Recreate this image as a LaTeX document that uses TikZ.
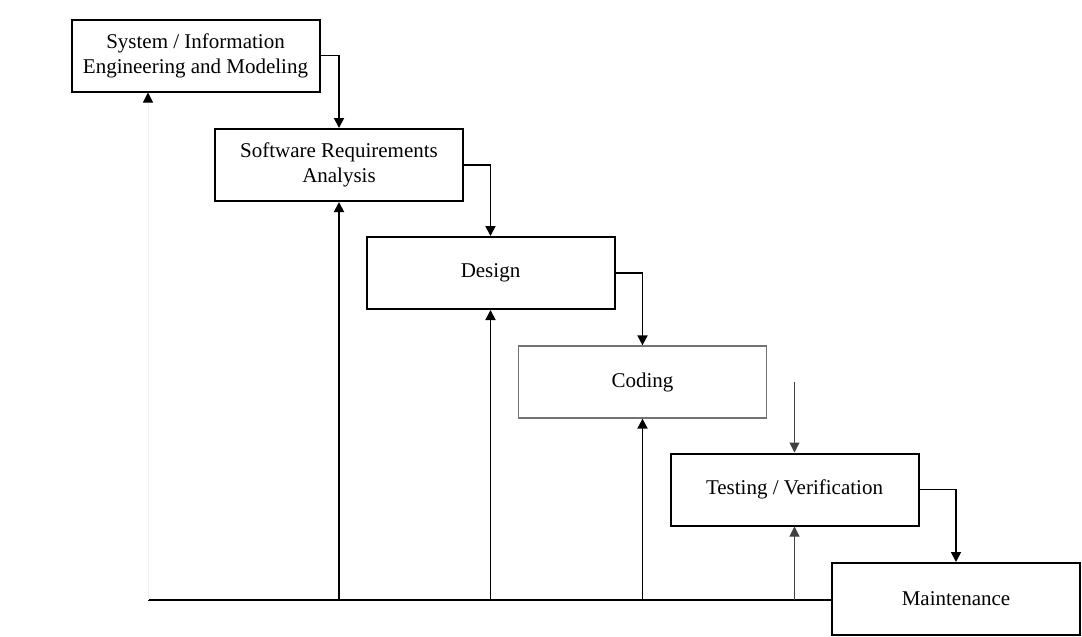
\documentclass[tikz,border=0pt]{standalone}
\usepackage{fontspec}
\setmainfont{Liberation Serif}
\usetikzlibrary{shapes,arrows.meta,positioning}
\tikzstyle{phase} = [draw, rectangle, line width=1pt, minimum width=124pt,
    minimum height=36pt, align=center, font=\fontsize{10.5}{12.5}\selectfont]
\tikzstyle{flow} = [-{Triangle[width=5pt,length=5pt]}, line width=0.9pt]
\tikzstyle{thinflow} = [flow, line width=0.5pt, black!75]

\begin{document}
\begin{tikzpicture}[x=0.5pt,y=-0.5pt]
  \useasboundingbox (0,0) rectangle (1082,637);
  \node [phase] (sys) at (195.5,55.5)
  {System / Information\\Engineering and Modeling};
  \node [phase, below of=sys, xshift=71.75pt, node distance=54.75pt] (req)
  {Software Requirements\\Analysis};
  \node [phase, below of=req, xshift=75.75pt, node distance=54pt] (des)
  {Design};
  \node [phase, draw=black!55, line width=0.6pt, below of=des, xshift=76pt,
    node distance=54.5pt] (cod)
  {Coding};
  \node [phase, below of=cod, xshift=76pt, node distance=53.75pt] (tst)
  {Testing / Verification};
  \node [phase, below of=tst, xshift=80.75pt, node distance=54.75pt] (mnt)
  {Maintenance};
  % forward flow
  \draw [flow] (sys.east) -| (req.north);
  \draw [flow] (req.east) -| (des.north);
  \draw [flow] (des.east) -| (cod.north);
  \draw [thinflow] (cod.east -| tst.north) -- (tst.north);
  \draw [flow] (tst.east) -| (mnt.north);
  % feedback line
  \coordinate (base) at (148,600);
  \draw [line width=0.9pt] (base) -- (base -| mnt.west);
  \draw [-{Triangle[width=5pt,length=5pt,color=black]}, line width=0.5pt, black!6]
    (base) -- (base |- sys.south);
  \draw [flow] (base -| req.south) -- (req.south);
  \draw [flow] (base -| des.south) -- (des.south);
  \draw [flow] (base -| cod.south) -- (cod.south);
  \draw [thinflow] (base -| tst.south) -- (tst.south);
\end{tikzpicture}
\end{document}
